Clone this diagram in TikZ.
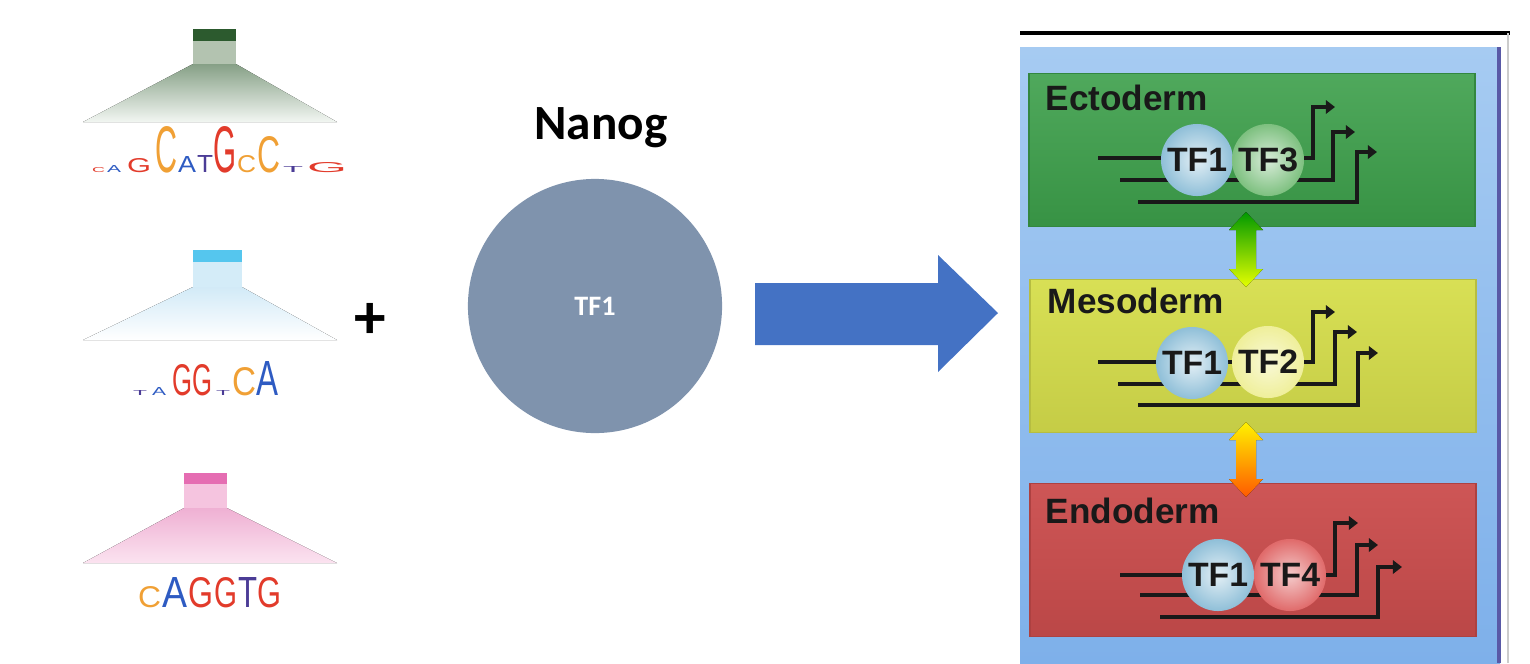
\documentclass[tikz,border=0pt]{standalone}
\usepackage{fontspec}
\usetikzlibrary{arrows.meta}
\newfontfamily\calibri{Carlito}
\newfontfamily\arial{Liberation Sans}
\newlength\logopx
\setlength\logopx{0.01cm}
\definecolor{seqA}{HTML}{2E5BC2}
\definecolor{seqC}{HTML}{F0A035}
\definecolor{seqG}{HTML}{E23B2B}
\definecolor{seqT}{HTML}{4B3C96}
\definecolor{nanogcol}{HTML}{7F93AD}
\definecolor{arrowblue}{HTML}{4472C4}
\definecolor{paneltop}{HTML}{A6CBF2}
\definecolor{panelbot}{HTML}{7EB0EA}
\definecolor{ectocol}{HTML}{3C9F4A}
\definecolor{mesocol}{HTML}{D6DE4C}
\definecolor{endocol}{HTML}{CB4D4D}
\definecolor{tfblue}{HTML}{8FBFD8}
\definecolor{tfgreen}{HTML}{7DC07F}
\definecolor{tfyellow}{HTML}{EFEF9A}
\definecolor{tfred}{HTML}{E06A6A}
\definecolor{logoabar}{HTML}{2C5A2E}
\definecolor{logoastem}{HTML}{B3C3B0}
\definecolor{logoatop}{HTML}{86A086}
\definecolor{logoabot}{HTML}{F2F6F2}
\definecolor{logobbar}{HTML}{55C6EE}
\definecolor{logobstem}{HTML}{D4ECF8}
\definecolor{logobtop}{HTML}{D2EAF7}
\definecolor{logocbar}{HTML}{E56DB2}
\definecolor{logocstem}{HTML}{F5C4DF}
\definecolor{logoctop}{HTML}{EFB0D3}
\definecolor{logocbot}{HTML}{FBE3F0}
\begin{document}
\begin{tikzpicture}[x=0.01cm,y=-0.01cm,
  seqlet/.style={anchor=base west,inner sep=0pt,outer sep=0pt},
  germbox/.style={rectangle,minimum width=4.46cm,minimum height=1.53cm,inner sep=0pt},
  germ/.style={anchor=base west,inner sep=0pt,font=\arial\bfseries\fontsize{10}{12}\selectfont,text=black!90},
  tfball/.style={circle,minimum size=0.72cm,inner sep=0pt,font=\arial\bfseries\fontsize{9.6}{10}\selectfont,text=black!90},
  gene/.style={line width=1.35pt,black!90,-{Triangle[length=2.6pt,width=3.8pt]}}]
    \useasboundingbox (0,0) rectangle (1530,663);

    % motif logos
    \fill[top color=logoatop,bottom color=logoabot] (193,64) -- (236,64) -- (337,122) -- (83,122) -- cycle;
    \fill[logoastem] (193,41) rectangle (236,64);
    \fill[logoabar] (193,29) rectangle (236,41);
    \foreach \x/\w/\h/\c/\l [count=\i] in {92/13/5/seqG/C,107/14/7/seqA/A,127/24/14/seqG/G,156/22/46/seqC/C,178/18/16/seqA/A,197/16/17/seqT/T,213/23/46/seqG/G,237/19/17/seqC/C,257/23/36/seqC/C,283/20/6/seqT/T,307/40/10/seqG/G}
        \node[seqlet,text=\c] (motifa-\i) at (\x,172) {\resizebox{\w\logopx}{\h\logopx}{\arial \l}};

    \fill[top color=logobtop,bottom color=white] (193,287) -- (242,287) -- (337,340) -- (83,340) -- cycle;
    \fill[logobstem] (193,262) rectangle (242,287);
    \fill[logobbar] (193,250) rectangle (242,262);
    \foreach \x/\w/\h/\c/\l [count=\i] in {133/14/5/seqT/T,152/14/8/seqA/A,172/20/31/seqG/G,192/20/31/seqG/G,216/14/5/seqT/T,232/24/28/seqC/C,256/22/34/seqA/A}
        \node[seqlet,text=\c] (motifb-\i) at (\x,395) {\resizebox{\w\logopx}{\h\logopx}{\arial \l}};

    \fill[top color=logoctop,bottom color=logocbot] (184,508) -- (227,508) -- (337,563) -- (83,563) -- cycle;
    \fill[logocstem] (184,484) rectangle (227,508);
    \fill[logocbar] (184,473) rectangle (227,484);
    \foreach \x/\w/\h/\c/\l [count=\i] in {138/23/21/seqC/C,162/25/30/seqA/A,188/25/30/seqG/G,214/23/30/seqG/G,238/19/30/seqT/T,257/24/30/seqG/G}
        \node[seqlet,text=\c] (motifc-\i) at (\x,607) {\resizebox{\w\logopx}{\h\logopx}{\arial \l}};

    \node[font=\calibri\bfseries\fontsize{18}{18}\selectfont] (plus) at (370,321) {+};

    % Nanog
    \node[anchor=base,font=\calibri\bfseries\fontsize{14}{16}\selectfont] (nanog) at (601,139) {Nanog};
    \node[circle,fill=nanogcol,minimum size=2.54cm,inner sep=0pt,text=white,font=\calibri\bfseries\fontsize{8}{9}\selectfont] (tf) at (595,306) {TF1};
    \fill[arrowblue] (755,283) -- (938,283) -- (938,255) -- (998,313) -- (938,372) -- (938,345) -- (755,345) -- cycle;

    % germ layers
    \draw[line width=0.9pt] (1020,33) -- (1510,33);
    \draw[black!20,line width=0.5pt] (1508,33) -- (1508,663);
    \fill[top color=paneltop,bottom color=panelbot] (1020,47) rectangle (1500,663);
    \draw[blue!30!gray,line width=1pt] (1499,47) -- (1499,663);

    \node[germbox,draw=ectocol!85!black,top color=ectocol!90!white,bottom color=ectocol!92!black] (ecto) at (1252,150) {};
    \node[germbox,draw=mesocol!85!black,top color=mesocol!95!white,bottom color=mesocol!92!black] (meso) at (1253,356) {};
    \node[germbox,draw=endocol!85!black,top color=endocol!95!white,bottom color=endocol!92!black] (endo) at (1253,560) {};

    \node[germ] (ectolab) at (1045,110) {Ectoderm};
    \node[germ] (mesolab) at (1047,313) {Mesoderm};
    \node[germ] (endolab) at (1045,523) {Endoderm};

    \foreach \sx/\sy/\cx/\ty/\tx in {1098/158/1313/107/1335,1120/180/1333/132/1355,1138/202/1357/152/1377,
        1098/362/1313/312/1335,1118/384/1335/332/1357,1138/405/1358/353/1378,
        1120/575/1335/523/1358,1140/595/1357/545/1378,1160/617/1378/567/1402}
        \draw[gene] (\sx,\sy) -- (\cx,\sy) -- (\cx,\ty) -- (\tx,\ty);

    \node[tfball,inner color=white!75!tfblue,outer color=tfblue] (ecto-tf1) at (1197,160) {TF1};
    \node[tfball,inner color=white!70!tfgreen,outer color=tfgreen] (ecto-tf3) at (1268,160) {TF3};
    \node[tfball,inner color=white!75!tfblue,outer color=tfblue] (meso-tf1) at (1192,363) {TF1};
    \node[tfball,inner color=white!60!tfyellow,outer color=tfyellow] (meso-tf2) at (1268,362) {TF2};
    \node[tfball,inner color=white!75!tfblue,outer color=tfblue] (endo-tf1) at (1218,575) {TF1};
    \node[tfball,inner color=white!65!tfred,outer color=tfred] (endo-tf4) at (1290,575) {TF4};

    \fill[top color=green!60!black,bottom color=yellow!90!green] (1246,212) -- (1263,230) -- (1256,230) -- (1256,269) -- (1263,269) -- (1246,287) -- (1229,269) -- (1236,269) -- (1236,230) -- (1229,230) -- cycle;
    \fill[top color=yellow!90!orange,bottom color=orange!70!red] (1246,422) -- (1263,440) -- (1256,440) -- (1256,479) -- (1263,479) -- (1246,497) -- (1229,479) -- (1236,479) -- (1236,440) -- (1229,440) -- cycle;
\end{tikzpicture}
\end{document}
